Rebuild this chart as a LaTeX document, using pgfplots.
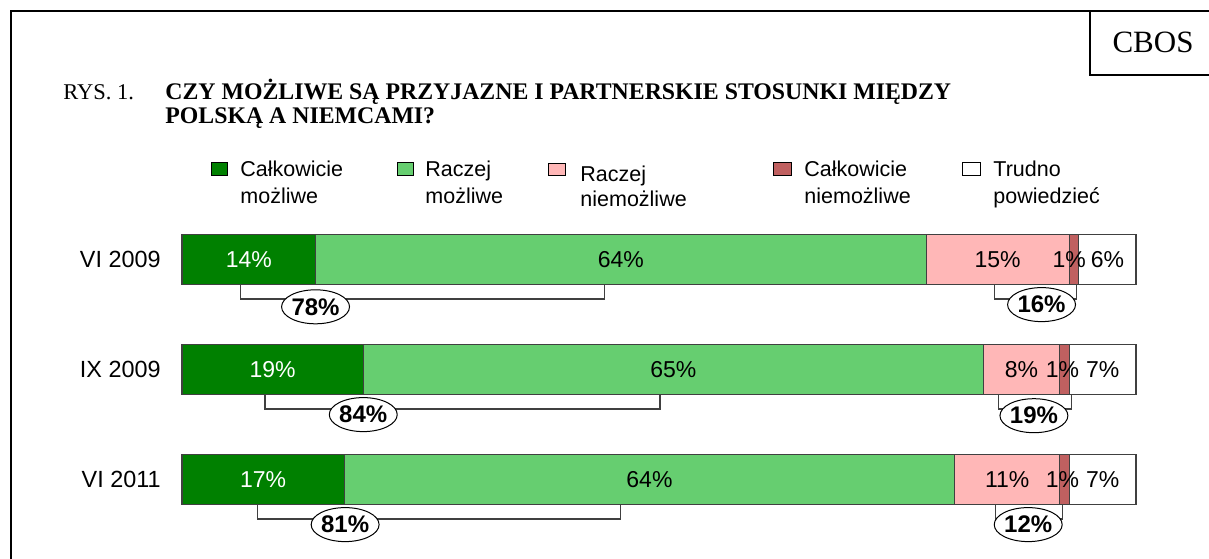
\documentclass[border=0pt]{standalone}
\usepackage{fontspec}
\setmainfont{Liberation Serif}
\newfontfamily\arial{Liberation Sans}
\usepackage{pgfplots}
\pgfplotsset{compat=1.18}
\usetikzlibrary{shapes.geometric}
\definecolor{dkgreen}{RGB}{0,128,0}
\definecolor{ltgreen}{RGB}{102,206,112}
\definecolor{pinkc}{RGB}{255,183,183}
\definecolor{dkred}{RGB}{192,96,96}
\definecolor{barline}{RGB}{64,64,64}
\pgfplotsset{myaxis/.style={at={(91pt,176.75pt)}, anchor=north west, scale only axis,
  width=477pt, height=165pt, xmin=0, xmax=100, ymin=-0.5, ymax=2.5,
  y dir=reverse, hide axis, clip=false}}
\begin{document}
\begin{tikzpicture}
\path[use as bounding box] (0pt,0pt) rectangle (604.5pt,279pt);
\begin{scope}[x=0.5pt,y=-0.5pt,shift={(0pt,279pt)}]
  % frame
  \draw[line width=1pt] (11,600) -- (11,11) -- (1215,11);
  \draw[line width=1pt] (1090,11) -- (1090,75) -- (1215,75);
  \node[anchor=base, font=\fontsize{15.5}{18}\selectfont, inner sep=0] at (1153,53) {CBOS};
  % title
  \node[anchor=base west, inner sep=0, font=\fontsize{11.25}{13}\selectfont] at (63,100) {RYS. 1.};
  \node[anchor=base west, inner sep=0, font=\fontsize{11.9}{13}\selectfont\bfseries] at (165,100) {CZY MOŻLIWE SĄ PRZYJAZNE I PARTNERSKIE STOSUNKI MIĘDZY};
  \node[anchor=base west, inner sep=0, font=\fontsize{11.9}{13}\selectfont\bfseries] at (165,124) {POLSKĄ A NIEMCAMI?};
  % legend
  \tikzset{lt/.style={anchor=base west, inner sep=0, font=\arial\fontsize{10.75}{13}\selectfont}}
  \draw[fill=dkgreen, line width=0.5pt] (211,162) rectangle (227,175);
  \node[lt] at (240,177) {Całkowicie};
  \node[lt] at (240,203) {możliwe};
  \draw[fill=ltgreen, line width=0.5pt] (397,162) rectangle (413,175);
  \node[lt] at (425,177) {Raczej};
  \node[lt] at (425,203) {możliwe};
  \draw[fill=pinkc, line width=0.5pt] (548,163) rectangle (565,175);
  \node[lt] at (580,181) {Raczej};
  \node[lt] at (580,206) {niemożliwe};
  \draw[fill=dkred, line width=0.5pt] (773,162) rectangle (791,175);
  \node[lt] at (804,177) {Całkowicie};
  \node[lt] at (804,203) {niemożliwe};
  \draw[fill=white, line width=0.5pt] (962,162) rectangle (980,175);
  \node[lt] at (993,177) {Trudno};
  \node[lt] at (993,203) {powiedzieć};
\end{scope}
\begin{axis}[myaxis, xbar stacked, bar width=25pt,
  every axis plot/.append style={draw=barline, line width=0.6pt}]
\addplot[fill=dkgreen] coordinates {(14,0) (19,1) (17,2)};
\addplot[fill=ltgreen] coordinates {(64,0) (65,1) (64,2)};
\addplot[fill=pinkc] coordinates {(15,0) (8,1) (11,2)};
\addplot[fill=dkred] coordinates {(1,0) (1,1) (1,2)};
\addplot[fill=white] coordinates {(6,0) (7,1) (7,2)};
\end{axis}
\begin{axis}[myaxis]
\tikzset{cl/.style={anchor=base east, inner sep=0, yshift=-4.1pt, xshift=-10.5pt, font=\arial\fontsize{11.7}{13}\selectfont},
  vl/.style={anchor=base, inner sep=0, yshift=-4.1pt, font=\arial\fontsize{11.5}{13}\selectfont},
  br/.style={draw=barline, line width=0.6pt},
  el/.style={ellipse, draw=black, fill=white, line width=0.5pt, inner sep=0pt, minimum width=32pt, minimum height=17pt, font=\arial\bfseries\fontsize{12}{13}\selectfont}}
\node[cl] at (axis cs:0,0) {VI 2009};
\node[cl] at (axis cs:0,1) {IX 2009};
\node[cl] at (axis cs:0,2) {VI 2011};
% value labels
\node[vl, text=white] at (axis cs:7,0) {14\%};
\node[vl] at (axis cs:46,0) {64\%};
\node[vl] at (axis cs:85.5,0) {15\%};
\node[vl] at (axis cs:93,0) {1\%};
\node[vl] at (axis cs:97,0) {6\%};
\node[vl, text=white] at (axis cs:9.5,1) {19\%};
\node[vl] at (axis cs:51.5,1) {65\%};
\node[vl] at (axis cs:88,1) {8\%};
\node[vl] at (axis cs:92.3,1) {1\%};
\node[vl] at (axis cs:96.5,1) {7\%};
\node[vl, text=white] at (axis cs:8.5,2) {17\%};
\node[vl] at (axis cs:49,2) {64\%};
\node[vl] at (axis cs:86.5,2) {11\%};
\node[vl] at (axis cs:92.3,2) {1\%};
\node[vl] at (axis cs:96.5,2) {7\%};
% brackets
\draw[br] (axis cs:6.1,0.227) -- (axis cs:6.1,0.359) -- (axis cs:44.3,0.359) -- (axis cs:44.3,0.227);
\draw[br] (axis cs:85.2,0.227) -- (axis cs:85.2,0.359) -- (axis cs:93.8,0.359) -- (axis cs:93.8,0.227);
\draw[br] (axis cs:8.7,1.227) -- (axis cs:8.7,1.359) -- (axis cs:50.1,1.359) -- (axis cs:50.1,1.227);
\draw[br] (axis cs:85.6,1.227) -- (axis cs:85.6,1.359) -- (axis cs:93.2,1.359) -- (axis cs:93.2,1.227);
\draw[br] (axis cs:7.9,2.227) -- (axis cs:7.9,2.359) -- (axis cs:46.0,2.359) -- (axis cs:46.0,2.227);
\draw[br] (axis cs:85.3,2.227) -- (axis cs:85.3,2.359) -- (axis cs:92.3,2.359) -- (axis cs:92.3,2.227);
\node[el] at (axis cs:14.0,0.43) {78\%};
\node[el] at (axis cs:90.1,0.41) {16\%};
\node[el] at (axis cs:19.0,1.41) {84\%};
\node[el] at (axis cs:89.3,1.42) {19\%};
\node[el] at (axis cs:17.1,2.41) {81\%};
\node[el] at (axis cs:88.7,2.41) {12\%};
\end{axis}
\end{tikzpicture}
\end{document}
